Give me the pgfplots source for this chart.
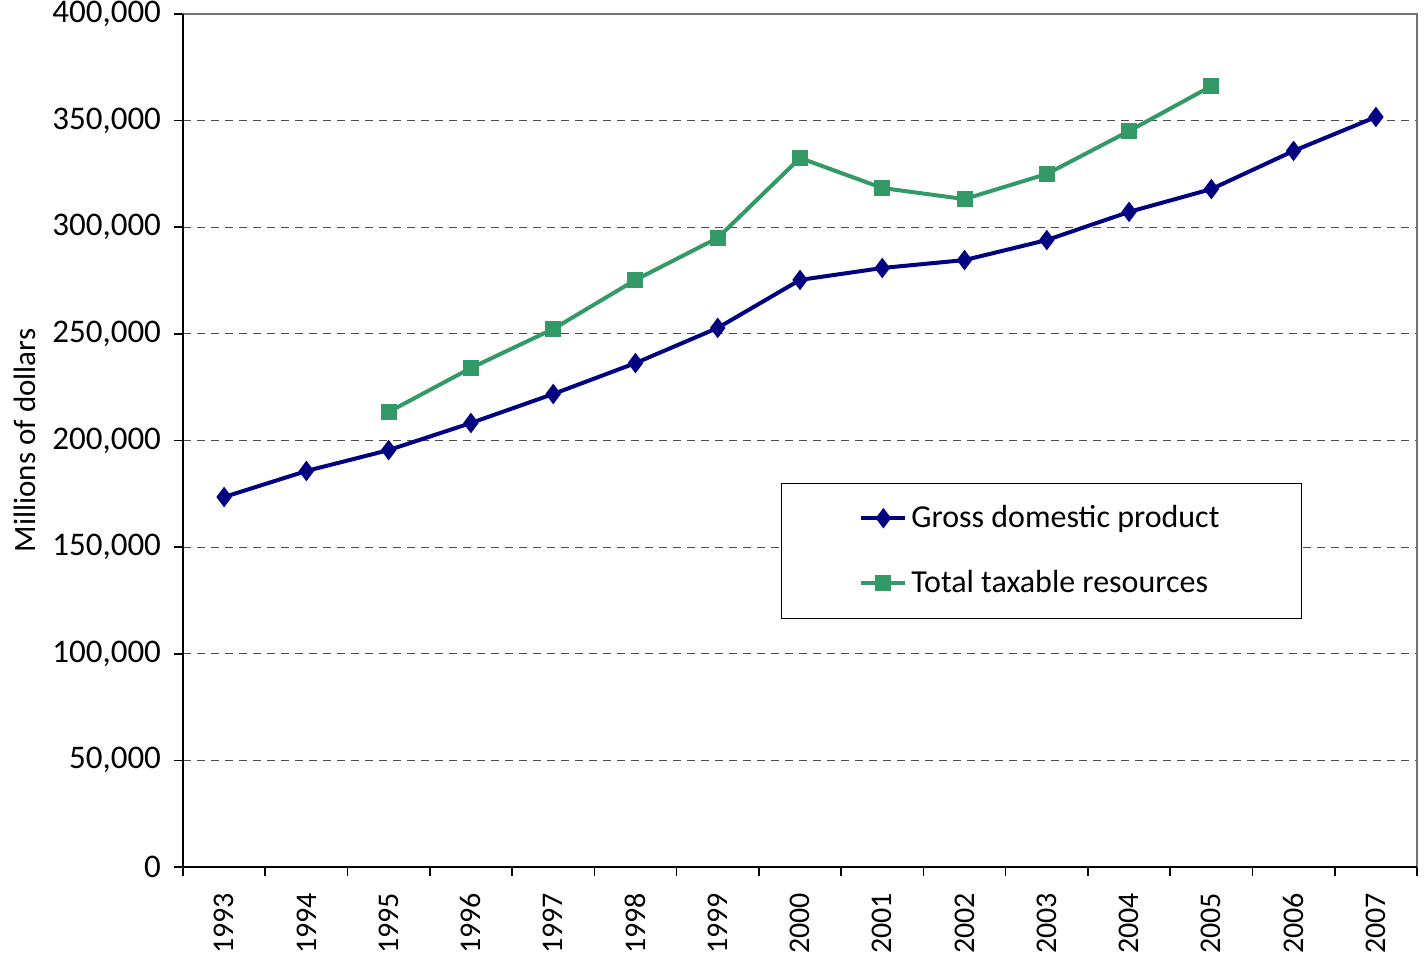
\documentclass[border=0pt]{standalone}
\usepackage{pgfplots}
\pgfplotsset{compat=1.18}
\usepackage{fontspec}
\setmainfont{Carlito}
\newfontfamily\lining{Carlito}
\definecolor{gdp}{HTML}{000080}
\definecolor{ttr}{HTML}{339966}
\pgfplotstableread{
x y
0 173500
1 185700
2 195500
3 208200
4 221800
5 236300
6 252800
7 275300
8 280900
9 284600
10 294000
11 307200
12 317900
13 335800
14 351700
}\gdp
\pgfplotstableread{
x y
2 213400
3 234000
4 252300
5 275300
6 295000
7 332500
8 318400
9 313200
10 325000
11 345100
12 366200
}\ttr
\begin{document}
\begin{tikzpicture}
\useasboundingbox (-91.5pt,-45.5pt) rectangle (622.5pt,433.5pt);
\begin{axis}[
  at={(0,0)}, anchor=south west,
  scale only axis, width=617pt, height=426.5pt,
  xmin=-0.5, xmax=14.5, ymin=0, ymax=400000,
  xtick pos=bottom, ytick pos=left,
  xtick={0,...,14},
  xticklabels={1993,1994,1995,1996,1997,1998,1999,2000,2001,2002,2003,2004,2005,2006,2007},
  x tick label style={rotate=90, anchor=east, yshift=0pt, xshift=-5pt, font=\lining\fontsize{15}{17}\selectfont},
  major x tick style={draw=none},
  minor xtick={-0.5,0.5,...,14.5},
  minor x tick style={black, thick},
  ytick={0,50000,...,400000},
  y tick label style={font=\fontsize{16.5}{18}\selectfont, xshift=-3pt},
  scaled y ticks=false,
  yticklabel style={/pgf/number format/.cd, fixed, 1000 sep={,}, assume math mode=true},
  tick align=outside,
  major tick length=4.5pt, minor tick length=4.5pt,
  y tick style={black, thick},
  axis line style={gray!90!black, thick},
  ymajorgrids,
  grid style={black!70, thin, dash pattern=on 4pt off 3pt},
  ylabel={Millions of dollars},
  every axis y label/.style={at={(rel axis cs:0,0.5)}, xshift=-79pt, rotate=90, anchor=center, font=\fontsize{15.5}{17}\selectfont},
  legend style={at={(rel axis cs:0.4846,0.45)}, anchor=north west, draw=black, thin,
     inner xsep=39pt, inner ysep=9pt, row sep=16pt,
     font=\fontsize{16}{18}\selectfont, legend cell align=left},
  legend image code/.code={\draw[#1] (0pt,0pt) -- (22pt,0pt); \draw[#1, mark repeat=2, mark phase=2] plot coordinates {(0pt,0pt) (11pt,0pt) (22pt,0pt)};},
  clip=false,
]
\draw[black, thick] (rel axis cs:0,0) -- (rel axis cs:0,1);
\draw[black, thick] (rel axis cs:0,0) -- (rel axis cs:1,0);
\addplot[gdp, line width=2pt, mark=diamond*, mark size=3.5pt, mark options={solid}] table[x=x,y=y] {\gdp};
\addlegendentry{Gross domestic product}
\addplot[ttr, line width=2pt, mark=square*, mark size=3pt] table[x=x,y=y] {\ttr};
\addlegendentry{Total taxable resources}
\end{axis}
\end{tikzpicture}
\end{document}
